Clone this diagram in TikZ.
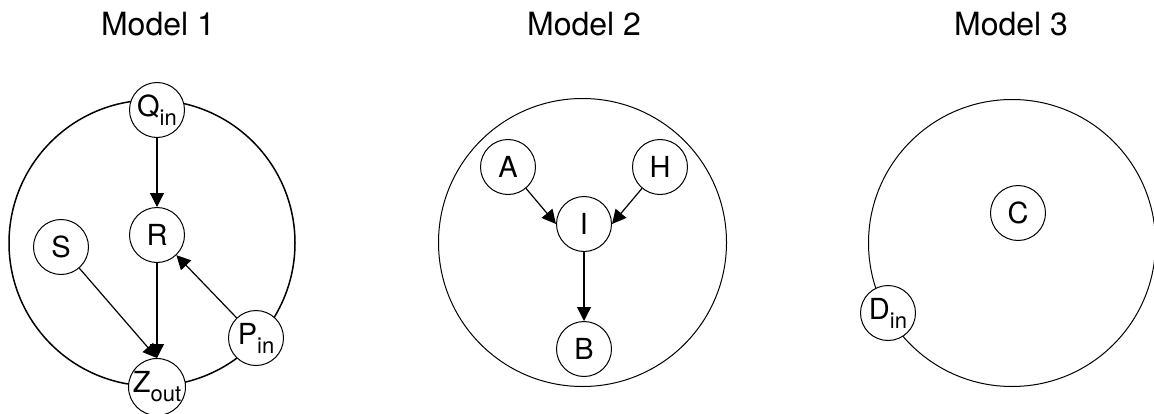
\documentclass[tikz,border=0pt]{standalone}
\usepackage{fontspec}
\setmainfont{TeX Gyre Heros}
\usetikzlibrary{arrows.meta}
\newcommand\subtxt[1]{\raisebox{-4.5pt}{\fontsize{11}{13}\selectfont #1}}

\begin{document}
\begin{tikzpicture}[x=.5pt,y=.5pt,
  var/.style={draw,circle,fill=white,minimum size=27.5pt,inner sep=0,line width=.5pt,font=\fontsize{14.5}{17}\selectfont},
  plate/.style={draw,circle,inner sep=0,line width=.5pt},
  edge/.style={-{Triangle[length=7pt,width=7pt]},line width=.6pt},
  title/.style={font=\fontsize{16}{19}\selectfont}]
\useasboundingbox (0,0) rectangle (1154,413);
% titles
\node[title] (t1) at (158,389) {Model 1};
\node[title] (t2) at (584,389) {Model 2};
\node[title] (t3) at (1011,389) {Model 3};
% model 1
\node[plate,minimum size=143pt,line width=.75pt] (m1) at (152,170) {};
\node[var] (q) at (157,303) {Q\subtxt{in}};
\node[var] (r) at (157,178) {R};
\node[var] (s) at (61,166) {S};
\node[var] (p) at (256,75) {P\subtxt{in}};
\node[var] (z) at (157,26) {Z\subtxt{out}};
\draw[edge] (q) -- (r);
\draw[edge] (r) -- (z);
\draw[edge] (s) -- (z.north);
\draw[edge] (p) -- (r);
% model 2
\node[plate,minimum size=144pt] (m2) at (582.5,170.5) {};
\node[var] (a) at (508,246) {A};
\node[var] (h) at (660,246) {H};
\node[var] (i) at (584,189) {I};
\node[var] (b) at (584,64) {B};
\draw[edge] (a) -- (i.west);
\draw[edge] (h) -- (i.east);
\draw[edge] (i) -- (b);
% model 3
\node[plate,minimum size=143.5pt] (m3) at (1012,170) {};
\node[var] (c) at (1018,200) {C};
\node[var] (d) at (888,100) {D\subtxt{in}};
\end{tikzpicture}
\end{document}
